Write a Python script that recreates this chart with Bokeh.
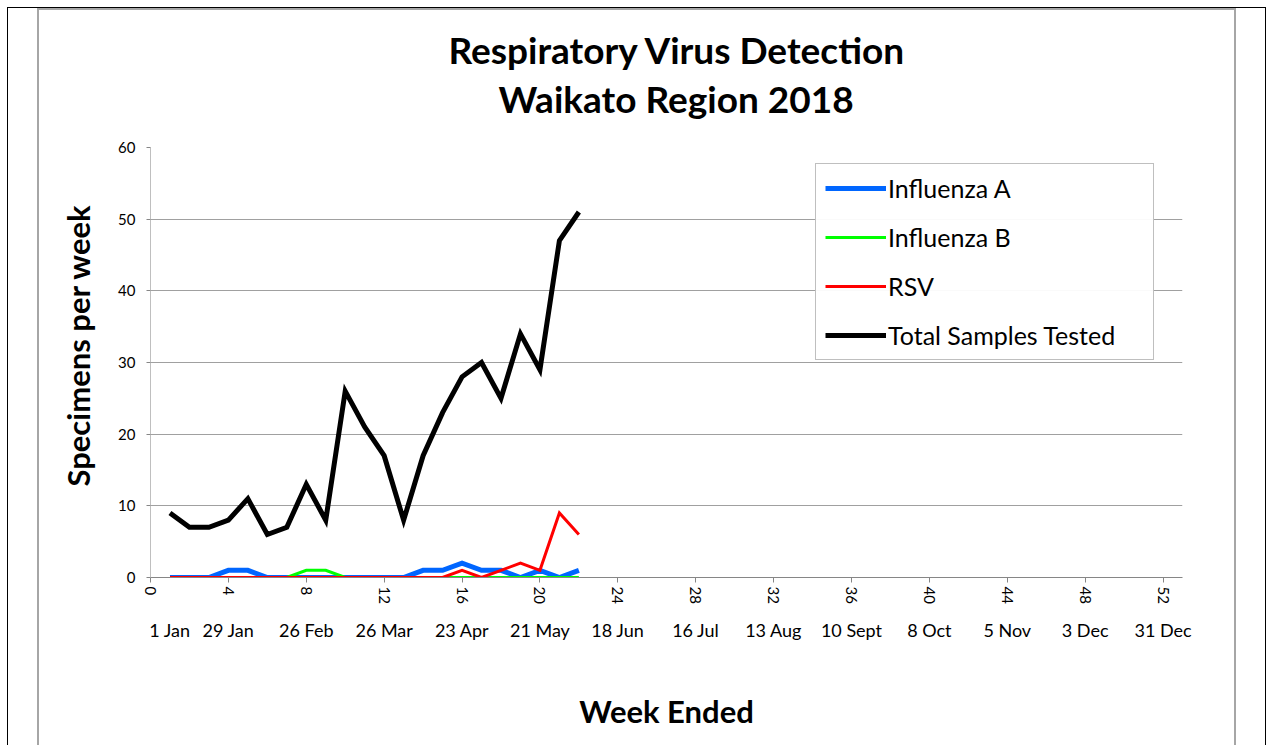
from bokeh.plotting import figure
from bokeh.models import (Range1d, LinearAxis, FixedTicker, Legend, LegendItem, Title)
from bokeh.layouts import column
from bokeh.embed import file_html
from bokeh.resources import INLINE

# ---- data ----
weeks = list(range(1, 23))
influenza_a = [0, 0, 0, 1, 1, 0, 0, 0, 0, 0, 0, 0, 0, 1, 1, 2, 1, 1, 0, 1, 0, 1]
influenza_b = [0, 0, 0, 0, 0, 0, 0, 1, 1, 0, 0, 0, 0, 0, 0, 0, 0, 0, 0, 0, 0, 0]
rsv = [0, 0, 0, 0, 0, 0, 0, 0, 0, 0, 0, 0, 0, 0, 0, 1, 0, 1, 2, 1, 9, 6]
total_tested = [9, 7, 7, 8, 11, 6, 7, 13, 8, 26, 21, 17, 8, 17, 23, 28, 30, 25, 34, 29, 47, 51]

week_ticks = list(range(0, 53, 4))
date_ticks = [1, 4, 8, 12, 16, 20, 24, 28, 32, 36, 40, 44, 48, 52]
date_labels = ["1 Jan", "29 Jan", "26 Feb", "26 Mar", "23 Apr", "21 May", "18 Jun",
               "16 Jul", "13 Aug", "10 Sept", "8 Oct", "5 Nov", "3 Dec", "31 Dec"]
y_ticks = [0, 10, 20, 30, 40, 50, 60]

series_names = ["Influenza A", "Influenza B", "RSV", "Total Samples Tested"]
series_colors = ["#0066FF", "#00FF00", "#FF0000", "#000000"]
series_widths = [5, 3, 3, 5]

FONT = "Lato"

p = figure(width=1199, height=737, output_backend="svg", toolbar_location=None,
           x_range=Range1d(0, 53), y_range=Range1d(0, 60),
           min_border_left=111, min_border_right=56, min_border_top=137, min_border_bottom=170)
p.outline_line_color = None
p.background_fill_color = "white"
p.border_fill_color = "white"

# week axis
p.xaxis.ticker = FixedTicker(ticks=week_ticks)
p.xaxis.major_label_orientation = "vertical"
p.xaxis.axis_line_color = "#868686"
p.xaxis.major_tick_line_color = "#868686"
p.xaxis.major_tick_out = 5
p.xaxis.major_tick_in = 0
p.xaxis.minor_tick_line_color = None
p.xaxis.major_label_text_font = FONT
p.xaxis.major_label_text_font_size = "15px"
p.xaxis.major_label_text_color = "#000000"
p.xaxis.major_label_standoff = 4

# date axis
date_axis = LinearAxis(ticker=FixedTicker(ticks=date_ticks),
                       major_label_overrides={t: l for t, l in zip(date_ticks, date_labels)},
                       axis_line_color=None, major_tick_line_color=None,
                       minor_tick_line_color=None,
                       major_label_text_font=FONT, major_label_text_font_size="18px",
                       major_label_text_color="#000000", major_label_standoff=6,
                       axis_label="Week Ended", axis_label_text_font=FONT,
                       axis_label_text_font_size="31px", axis_label_text_font_style="bold",
                       axis_label_text_color="#000000", axis_label_standoff=48)
p.add_layout(date_axis, "below")

# y axis
p.yaxis.ticker = FixedTicker(ticks=y_ticks)
p.yaxis.axis_line_color = "#bfbfbf"
p.yaxis.major_tick_line_color = "#868686"
p.yaxis.major_tick_out = 4
p.yaxis.major_tick_in = 0
p.yaxis.minor_tick_line_color = None
p.yaxis.major_label_text_font = FONT
p.yaxis.major_label_text_font_size = "15px"
p.yaxis.major_label_text_color = "#000000"
p.yaxis.major_label_standoff = 11

p.xgrid.grid_line_color = None
p.ygrid.ticker = FixedTicker(ticks=y_ticks)
p.ygrid.grid_line_color = "#a0a0a0"
p.ygrid.grid_line_width = 1

# series
all_values = [influenza_a, influenza_b, rsv, total_tested]
items = []
for name, vals, col, w in zip(series_names, all_values, series_colors, series_widths):
    r = p.line(weeks, vals, line_color=col, line_width=w, line_join="miter")
    items.append(LegendItem(label=name, renderers=[r]))

legend = Legend(items=items, location=(665, 217), padding=9, spacing=19,
                glyph_width=61, glyph_height=30, label_height=30, label_width=256,
                label_standoff=2, label_text_font=FONT, label_text_font_size="25px",
                label_text_color="#000000", border_line_color="#808080",
                border_line_width=1, background_fill_color="white", margin=0)
p.add_layout(legend, "center")

# y-axis title (side title so it can sit slightly above centre)
p.add_layout(Title(text="Specimens per week", align="left", offset=91, standoff=34,
                   vertical_align="top",
                   text_font=FONT, text_font_size="31px", text_font_style="bold",
                   text_color="#000000"), "left")

# two-line title
p.add_layout(Title(text="Waikato Region 2018", align="left", offset=348, standoff=54,
                   text_font=FONT, text_font_size="37px", text_font_style="bold",
                   text_color="#000000"), "above")
p.add_layout(Title(text="Respiratory Virus Detection", align="left", offset=298, standoff=-50,
                   text_font=FONT, text_font_size="37px", text_font_style="bold",
                   text_color="#000000"), "above")

root = column(p, styles={"margin-left": "7px", "margin-top": "7px",
                         "border-left": "1px solid black", "border-top": "1px solid black",
                         "border-right": "1px solid black", "padding-left": "29px",
                         "padding-right": "29px"})
p.styles = {"border-left": "2px solid #a6a6a6", "border-top": "2px solid #a6a6a6",
            "border-right": "2px solid #a6a6a6"}

open("out.html", "w").write(file_html(root, INLINE))
